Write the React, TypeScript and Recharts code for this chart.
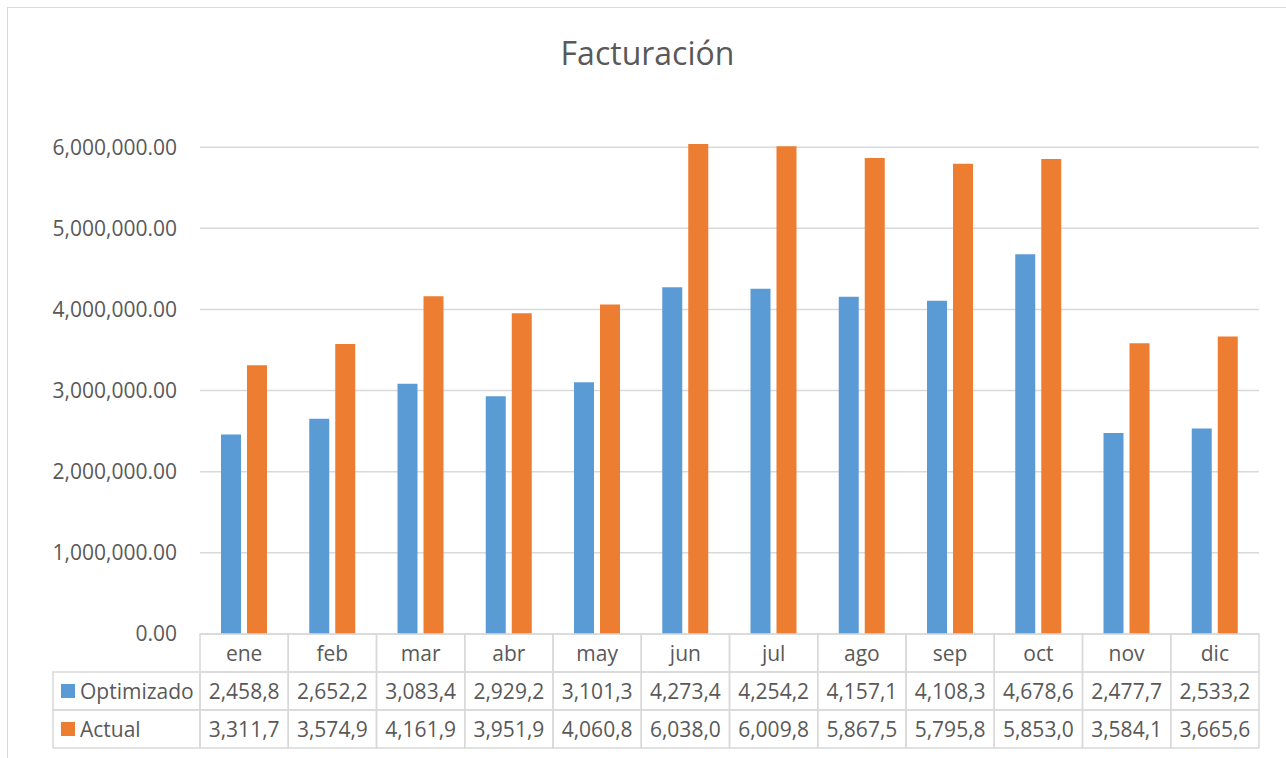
import React from 'react';
import { BarChart, Bar, XAxis, YAxis, CartesianGrid } from 'recharts';

const months = ['ene', 'feb', 'mar', 'abr', 'may', 'jun', 'jul', 'ago', 'sep', 'oct', 'nov', 'dic'];
const optimizado = [2458800, 2652200, 3083400, 2929200, 3101300, 4273400, 4254200, 4157100, 4108300, 4678600, 2477700, 2533200];
const actual = [3311700, 3574900, 4161900, 3951900, 4060800, 6038000, 6009800, 5867500, 5795800, 5853000, 3584100, 3665600];
const yTicks = [0, 1000000, 2000000, 3000000, 4000000, 5000000, 6000000];

const series = [
  { key: 'optimizado', name: 'Optimizado', color: '#5b9bd5', values: optimizado },
  { key: 'actual', name: 'Actual', color: '#ed7d31', values: actual },
];

const data = months.map((m, i) => ({ month: m, optimizado: optimizado[i], actual: actual[i] }));

const W = 1286;
const H = 758;
const PLOT_LEFT = 200;
const PLOT_RIGHT = 1259;
const Y_AXIS_W = 190;
const X_AXIS_H = 124;
const BAND = (PLOT_RIGHT - PLOT_LEFT) / months.length;
const ROW_H = 38;
const LEGEND_W = 147;
const TEXT = '#595959';
const LINE = '#d9d9d9';
const FONT = '"Open Sans", "Noto Sans", sans-serif';

// excel data table shows the number cut off to fit the column
const cellText = (v: number) =>
  v.toLocaleString('en-US', { minimumFractionDigits: 2, maximumFractionDigits: 2 }).slice(0, 7);

const yLabel = (v: number) =>
  v.toLocaleString('en-US', { minimumFractionDigits: 2, maximumFractionDigits: 2 });

const TableTick = (props: any) => {
  const { x, y, payload, index } = props;
  const left = x - BAND / 2;
  return (
    <g fontFamily={FONT} fontSize={21} fill={TEXT}>
      {[0, 1, 2].map((r) => (
        <rect key={r} x={left} y={y + r * ROW_H} width={BAND} height={ROW_H} fill="none" stroke={LINE} strokeWidth={1.5} />
      ))}
      <text x={x} y={y + ROW_H / 2} textAnchor="middle" dominantBaseline="central" fill={TEXT}>
        {payload.value}
      </text>
      {series.map((s, r) => (
        <text key={s.key} x={x} y={y + (r + 1.5) * ROW_H} textAnchor="middle" dominantBaseline="central" fill={TEXT}>
          {cellText(s.values[index])}
        </text>
      ))}
      {index === 0 &&
        series.map((s, r) => (
          <g key={'lg' + s.key}>
            <rect x={left - LEGEND_W} y={y + (r + 1) * ROW_H} width={LEGEND_W} height={ROW_H} fill="none" stroke={LINE} strokeWidth={1.5} />
            <rect x={left - LEGEND_W + 8} y={y + (r + 1.5) * ROW_H - 7} width={14} height={14} fill={s.color} />
            <text x={left - LEGEND_W + 27} y={y + (r + 1.5) * ROW_H} dominantBaseline="central" fill={TEXT}>
              {s.name}
            </text>
          </g>
        ))}
    </g>
  );
};

export default function App() {
  return (
    <div style={{ position: 'absolute', left: 0, top: 0, width: W, height: H, background: '#fff', overflow: 'hidden' }}>
      <div style={{ position: 'absolute', left: 7, top: 7, width: W + 20, height: H + 20, border: `1.5px solid ${LINE}` }} />
      <div
        style={{
          position: 'absolute',
          left: 7,
          top: 37,
          width: 1281,
          textAlign: 'center',
          fontFamily: FONT,
          fontSize: 32,
          lineHeight: '32px',
          color: TEXT,
        }}
      >
        Facturación
      </div>
      <div style={{ position: 'absolute', left: 0, top: 0 }}>
        <BarChart
          width={W}
          height={H}
          data={data}
          margin={{ top: 66, right: W - PLOT_RIGHT, bottom: H - 634 - X_AXIS_H, left: PLOT_LEFT - Y_AXIS_W }}
          barSize={20}
          barGap={6}
        >
          <CartesianGrid vertical={false} horizontalValues={yTicks} stroke={LINE} strokeWidth={1.5} />
          <XAxis
            dataKey="month"
            height={X_AXIS_H}
            axisLine={false}
            tickLine={false}
            tickSize={0}
            tickMargin={0}
            interval={0}
            tick={<TableTick />}
          />
          <YAxis
            width={Y_AXIS_W}
            domain={[0, 7000000]}
            ticks={yTicks}
            axisLine={false}
            tickLine={false}
            tickSize={0}
            tickMargin={23}
            tickFormatter={yLabel}
            tick={{ fill: TEXT, fontSize: 21, fontFamily: FONT }}
          />
          {series.map((s) => (
            <Bar key={s.key} dataKey={s.key} name={s.name} fill={s.color} isAnimationActive={false} />
          ))}
        </BarChart>
      </div>
    </div>
  );
}
